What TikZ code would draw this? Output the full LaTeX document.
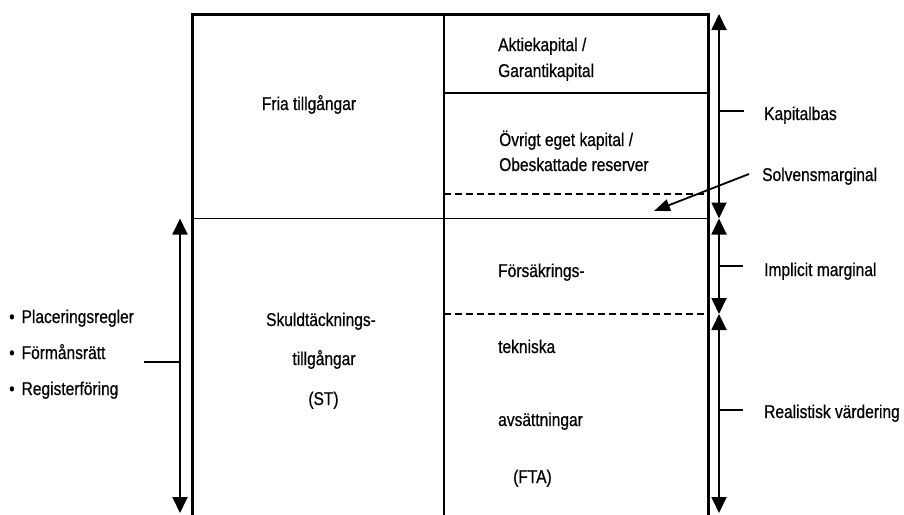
\documentclass[tikz,border=0pt]{standalone}
\usepackage{fontspec}
\setmainfont{Liberation Sans}[FakeStretch=0.84,FakeBold=0.6]
\usetikzlibrary{arrows.meta}
\begin{document}
\begin{tikzpicture}[x=1pt,y=-1pt,
  txt/.style={font=\fontsize{18.5}{22}\selectfont, inner sep=0pt},
  lbl/.style={txt, anchor=base west},
  clbl/.style={txt, anchor=base},
  frame/.style={line width=3pt, line join=miter},
  thinline/.style={line width=1.8pt},
  dsh/.style={line width=1.5pt, dash pattern=on 7pt off 4pt},
  dimarrow/.style={line width=1.8pt, {Triangle[width=15pt,length=16pt]}-{Triangle[width=15pt,length=16pt]}},
  tickline/.style={line width=1.8pt},
  ptr/.style={line width=1.8pt, -{Triangle[width=12pt,length=16pt]}}]
\useasboundingbox (0,0) rectangle (904,514);

% frame coordinates
\coordinate (BL) at (192,516);
\coordinate (TL) at (192,14);
\coordinate (TR) at (708,14);
\coordinate (BR) at (708,516);
\coordinate (MT) at (444,14);
\coordinate (MB) at (444,516);
\coordinate (A1) at (444,92.7);
\coordinate (A2) at (708,92.7);
\coordinate (H1) at (192,218.5);
\coordinate (H2) at (708,218.5);
\coordinate (D1) at (444,194);
\coordinate (D2) at (708,194);
\coordinate (E1) at (444,314);
\coordinate (E2) at (708,314);

\draw[frame] (BL) -- (TL) -- (TR) -- (BR);
\draw[thinline] (MT) -- (MB);
\draw[thinline] (A1) -- (A2);
\draw[thinline] (H1) -- (H2);
\draw[dsh] (D1) -- (D2);
\draw[dsh] (E1) -- (E2);

% dimension arrows
\coordinate (R0) at (719,14);
\coordinate (R1) at (719,218.5);
\coordinate (R2) at (719,314);
\coordinate (R3) at (719,513);
\coordinate (L0) at (180,218.5);
\coordinate (L1) at (180,513);
\draw[dimarrow] (R0) -- (R1);
\draw[dimarrow] (R1) -- (R2);
\draw[dimarrow] (R2) -- (R3);
\draw[dimarrow] (L0) -- (L1);

% ticks
\coordinate (K0) at (719,111);  \coordinate (K1) at (744,111);
\coordinate (I0) at (719,266);  \coordinate (I1) at (743,266);
\coordinate (V0) at (719,410);  \coordinate (V1) at (743,410);
\coordinate (P0) at (144,362);  \coordinate (P1) at (180,362);
\draw[tickline] (K0) -- (K1);
\draw[tickline] (I0) -- (I1);
\draw[tickline] (V0) -- (V1);
\draw[tickline] (P0) -- (P1);

% solvensmarginal pointer
\coordinate (S0) at (749,174);
\coordinate (S1) at (654,211);
\draw[ptr] (S0) -- (S1);

% texts
\node[lbl] (aktie) at (498,51) {Aktiekapital /};
\node[lbl] (garanti) at (498,77) {Garantikapital};
\node[lbl] (ovrigt) at (499,146) {Övrigt eget kapital /};
\node[lbl] (obesk) at (499,171) {Obeskattade reserver};
\node[clbl] (fria) at (309,110) {Fria tillgångar};
\node[lbl] (fors) at (498,277) {Försäkrings-};
\node[lbl] (tekn) at (498,353) {tekniska};
\node[lbl] (avs) at (498,426) {avsättningar};
\node[lbl] (fta) at (513,483) {(FTA)};
\node[clbl] (skuld) at (321,326) {Skuldtäcknings-};
\node[clbl] (tillg) at (324,365) {tillgångar};
\node[clbl] (st) at (323.5,405) {(ST)};
\node[lbl] (kap) at (764,120) {Kapitalbas};
\node[lbl] (solv) at (762,181) {Solvensmarginal};
\node[lbl] (impl) at (764,276) {Implicit marginal};
\node[lbl] (real) at (764,418) {Realistisk värdering};
\node[lbl] (plac) at (9,323) {•\hspace{7pt}Placeringsregler};
\node[lbl] (form) at (9,359) {•\hspace{7pt}Förmånsrätt};
\node[lbl] (reg) at (9,395) {•\hspace{7pt}Registerföring};
\end{tikzpicture}
\end{document}
